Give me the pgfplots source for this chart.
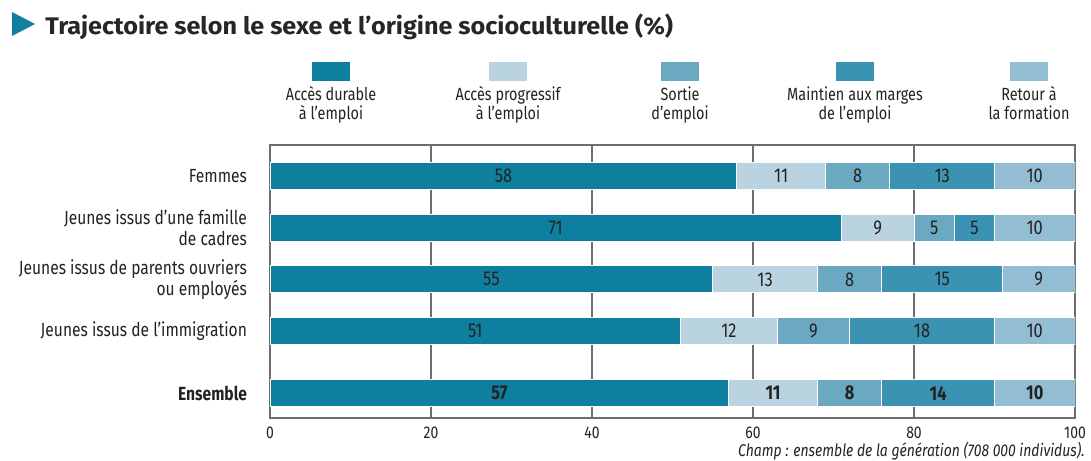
\documentclass[border=0pt]{standalone}
\usepackage{fontspec}
\setmainfont{Fira Sans}[FakeStretch=0.82]
\newfontfamily\titlefont{Fira Sans}[FakeStretch=1.05]
\usepackage{pgfplots}
\usepackage{pgfplotstable}
\pgfplotsset{compat=1.18}
\definecolor{cA}{HTML}{0E7F9E}
\definecolor{cB}{HTML}{B9D4E0}
\definecolor{cC}{HTML}{6BA8C1}
\definecolor{cD}{HTML}{3A93B3}
\definecolor{cE}{HTML}{93BDD2}
\definecolor{txt}{HTML}{222222}
\definecolor{gridc}{HTML}{6E6E6E}

\pgfplotstableread{
y    a  b  c  d  e
4.2 58 11  8 13 10
3.2 71  9  5  5 10
2.2 55 13  8 15  9
1.2 51 12  9 18 10
0   57 11  8 14 10
}\data

\pgfplotstableread{
x y lab
29 4.2 58
63.5 4.2 11
73 4.2 8
83.5 4.2 13
95 4.2 10
35.5 3.2 71
75.5 3.2 9
82.5 3.2 5
87.5 3.2 5
95 3.2 10
27.5 2.2 55
61.5 2.2 13
72 2.2 8
83.5 2.2 15
95.5 2.2 9
25.5 1.2 51
57 1.2 12
67.5 1.2 9
81 1.2 18
95 1.2 10
}\labs

\pgfplotstableread{
x y lab
28.5 0 57
62.5 0 11
72 0 8
83 0 14
95 0 10
}\labsb

\begin{document}
\begin{tikzpicture}
\useasboundingbox (0,0) rectangle (545.5pt,230pt);
\pgfplotsset{
  base/.style={
    scale only axis, width=402.5pt, height=136.5pt,
    at={(135pt,21pt)}, anchor=south west,
    xmin=0, xmax=100, ymin=-0.48, ymax=4.8,
  }
}
\begin{axis}[base,
  xbar stacked, bar width=0.52,
  axis line style={gridc, line width=0.8pt},
  xmajorgrids, grid style={gridc, line width=0.75pt},
  xtick={0,20,40,60,80,100},
  major tick length=0pt,
  /pgf/number format/assume math mode=true,
  ytick={0,1.2,2.2,3.2,4.2},
  yticklabels={\textbf{Ensemble},Jeunes issus de l’immigration,Jeunes issus de parents ouvriers\\ou employés,Jeunes issus d’une famille\\de cadres,Femmes},
  yticklabel style={align=right, font=\fontsize{9.5}{10.5}\selectfont, text=txt, xshift=-8pt},
  xticklabel style={font=\fontsize{8.5}{9}\selectfont, text=txt, yshift=-1pt},
  every axis plot/.append style={draw=white, line width=0.5pt},
]
\addplot[fill=cA] table[x=a, y=y] {\data};
\addplot[fill=cB] table[x=b, y=y] {\data};
\addplot[fill=cC] table[x=c, y=y] {\data};
\addplot[fill=cD] table[x=d, y=y] {\data};
\addplot[fill=cE] table[x=e, y=y] {\data};
\end{axis}
\begin{axis}[base, hide axis]
\addplot[only marks, mark=none, nodes near coords, point meta=explicit symbolic,
  every node near coord/.append style={anchor=center, font=\fontsize{10}{11}\selectfont, text=txt}]
  table[x=x, y=y, meta=lab] {\labs};
\addplot[only marks, mark=none, nodes near coords, point meta=explicit symbolic,
  every node near coord/.append style={anchor=center, font=\fontsize{10}{11}\selectfont\bfseries, text=txt}]
  table[x=x, y=y, meta=lab] {\labsb};
\end{axis}
% title
\fill[cA] (6pt,224pt) -- (6pt,212pt) -- (17.5pt,218pt) -- cycle;
\node[anchor=west, inner sep=0pt, text=black!85] at (22.5pt,216.5pt) {\titlefont\fontsize{12}{14}\selectfont\bfseries Trajectoire selon le sexe et l’origine socioculturelle (\%)};
% legend
\foreach \cx/\col/\lab in {165.5/cA/{Accès durable\\à l’emploi}, 254/cB/{Accès progressif\\à l’emploi}, 340/cC/{Sortie\\d’emploi}, 427.5/cD/{Maintien aux marges\\de l’emploi}, 514.5/cE/{Retour à\\la formation}}{
  \fill[\col] (\cx pt-9.5pt,189.5pt) rectangle (\cx pt+9.5pt,199pt);
  \node[anchor=north, align=center, inner sep=0pt, text=txt, font=\fontsize{8.8}{9.5}\selectfont] at (\cx pt,186.8pt) {\lab};
}
% footnote
\node[anchor=east, inner sep=0pt, text=txt, font=\fontsize{8.5}{9}\selectfont\itshape] at (542.5pt,4.5pt) {Champ : ensemble de la génération (708 000 individus).};
\end{tikzpicture}
\end{document}
